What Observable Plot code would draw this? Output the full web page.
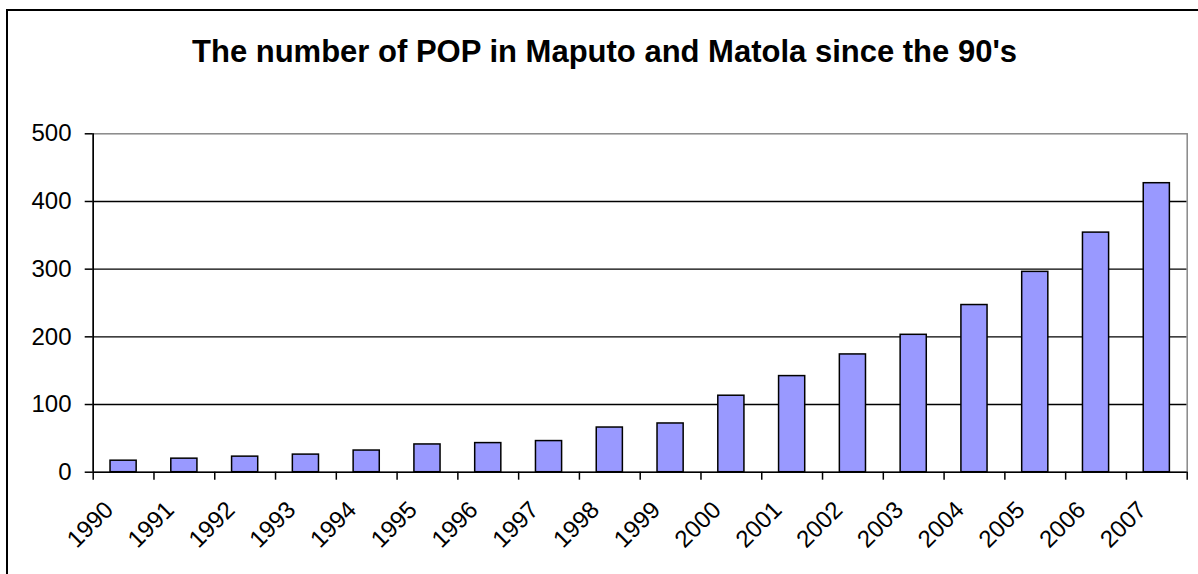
<!DOCTYPE html>
<html><head><meta charset="utf-8">
<script src="https://cdn.jsdelivr.net/npm/d3@7"></script>
<script src="https://cdn.jsdelivr.net/npm/@observablehq/plot@0.6"></script>
<style>
html,body{margin:0;padding:0;background:#fff;overflow:hidden}
#wrap{position:relative;width:1198px;height:574px;overflow:hidden}
#wrap svg{position:absolute;left:0;top:0}
#border{position:absolute;left:6px;top:9px;width:1300px;height:700px;border:2px solid #000;pointer-events:none}
</style></head><body><div id="wrap"><div id="border"></div></div>
<script>
const title = "The number of POP in Maputo and Matola since the 90's";
const years = ["1990","1991","1992","1993","1994","1995","1996","1997","1998","1999","2000","2001","2002","2003","2004","2005","2006","2007"];
const counts = [17, 20, 23, 26, 32, 41, 43, 46, 66, 72, 113, 142, 174, 203, 247, 296, 354, 427];
const yTicks = [0, 100, 200, 300, 400, 500];
const gridTicks = [100, 200, 300, 400];

const data = years.map((year, i) => ({year, count: counts[i]}));
const width = 1198, height = 574;
const mL = 92.7, mR = 11.3, mT = 133.3, mB = 102.3;
const step = (width - mL - mR) / years.length;
const frameCenterX = mL + (width - mL - mR) / 2;

const chart = Plot.plot({
  width, height,
  marginLeft: mL, marginRight: mR, marginTop: mT, marginBottom: mB,
  style: {fontFamily: "'Liberation Sans', Arial, sans-serif", fontSize: "24px", background: "transparent", color: "#000"},
  x: {domain: years, paddingInner: 0.57, paddingOuter: 0.285, round: false},
  y: {domain: [0, 500]},
  marks: [
    Plot.ruleY(gridTicks, {stroke: "#000", strokeWidth: 1.3}),
    Plot.frame({stroke: "#888", strokeWidth: 1.5}),
    Plot.barY(data, {x: "year", y: "count", fill: "#9999FF", stroke: "#000", strokeWidth: 1.5}),
    Plot.ruleY([0], {stroke: "#000", strokeWidth: 1.6}),
    Plot.ruleX([years[0]], {y1: 0, y2: 500, dx: -step / 2, stroke: "#000", strokeWidth: 1.6}),
    Plot.axisY({ticks: yTicks, tickSize: 8, tickPadding: 13.7, anchor: "left", label: null, strokeWidth: 1.5, fontSize: 24}),
    Plot.axisX({ticks: years, tickSize: 8, tickFormat: () => "", dx: -step / 2, label: null, strokeWidth: 1.5}),
    Plot.axisX({ticks: [years[years.length - 1]], tickSize: 8, tickFormat: () => "", dx: step / 2, label: null, strokeWidth: 1.5}),
    Plot.text(years, {x: d => d, text: d => d, frameAnchor: "bottom", rotate: -45, textAnchor: "end", lineAnchor: "bottom", dx: -9, dy: 39, fontSize: 24}),
    Plot.text([title], {text: d => d, frameAnchor: "top", lineAnchor: "bottom", dx: 604 - frameCenterX, dy: 61 - mT, fontSize: 31, fontWeight: "bold"})
  ]
});
document.getElementById("wrap").prepend(chart);
</script>
</body></html>
